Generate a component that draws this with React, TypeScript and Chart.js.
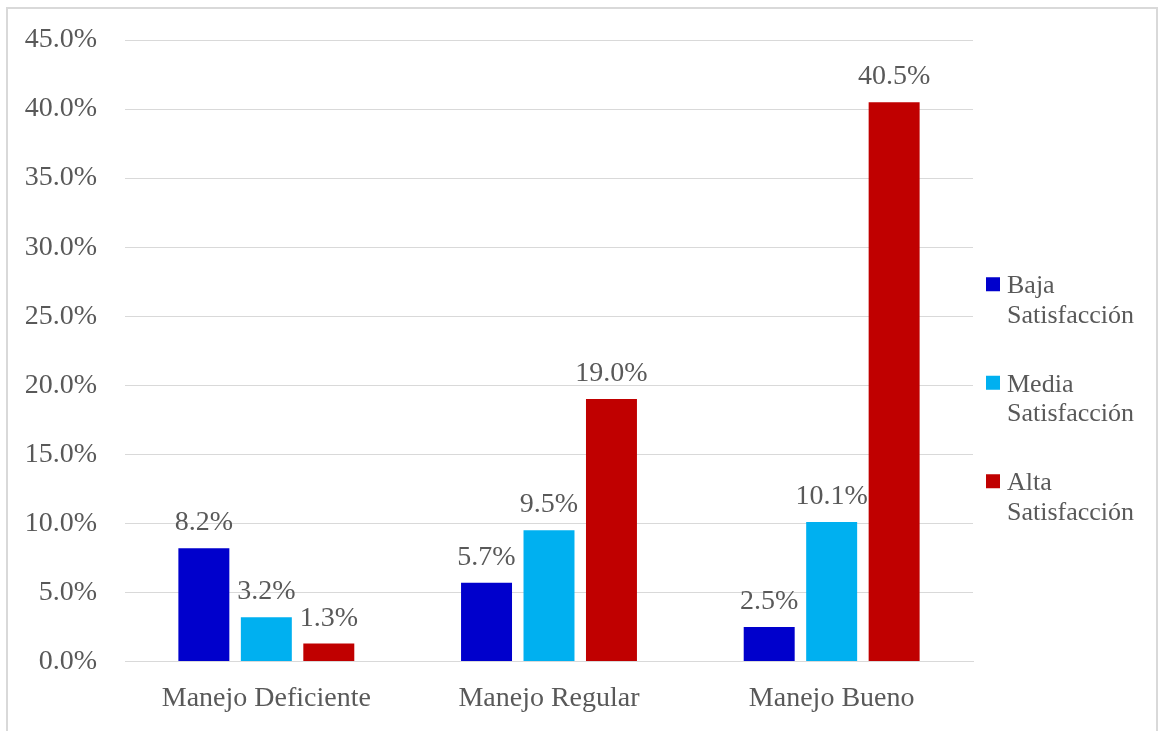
import React, { useEffect, useRef } from "react";
import { Chart, registerables } from "chart.js";

Chart.register(...registerables);

const categories = ["Manejo Deficiente", "Manejo Regular", "Manejo Bueno"];
const seriesNames = [["Baja", "Satisfacción"], ["Media", "Satisfacción"], ["Alta", "Satisfacción"]];
const bajaValues = [8.2, 5.7, 2.5];
const mediaValues = [3.2, 9.5, 10.1];
const altaValues = [1.3, 19.0, 40.5];
const seriesColors = ["#0000CC", "#00B0F0", "#C00000"];
const yMin = 0;
const yMax = 45;
const yStep = 5;

const FONT = "'Liberation Serif', 'Times New Roman', serif";
const TEXT = "#595959";
const GRID = "#D9D9D9";

const framePlugin = {
  id: "frame",
  beforeDraw(chart: any) {
    const ctx = chart.ctx;
    ctx.save();
    ctx.fillStyle = "#ffffff";
    ctx.fillRect(0, 0, chart.width, chart.height);
    ctx.strokeStyle = GRID;
    ctx.lineWidth = 2;
    ctx.strokeRect(7, 8, 1150, 800);
    ctx.restore();
  },
};

const dataLabelPlugin = {
  id: "dataLabels",
  afterDatasetsDraw(chart: any) {
    const ctx = chart.ctx;
    ctx.save();
    ctx.font = `28px ${FONT}`;
    ctx.fillStyle = TEXT;
    ctx.textAlign = "center";
    ctx.textBaseline = "alphabetic";
    chart.data.datasets.forEach((ds: any, i: number) => {
      const meta = chart.getDatasetMeta(i);
      meta.data.forEach((bar: any, j: number) => {
        const v = ds.data[j] as number;
        ctx.fillText(v.toFixed(1) + "%", bar.x, bar.y - 18);
      });
    });
    ctx.restore();
  },
};

const legendPlugin = {
  id: "customLegend",
  afterDraw(chart: any) {
    const ctx = chart.ctx;
    const area = chart.chartArea;
    const cy = (area.top + area.bottom) / 2;
    const firstBaseline = cy - 57.5;
    const step = 98.5;
    const lineH = 29.5;
    ctx.save();
    ctx.font = `26px ${FONT}`;
    ctx.textAlign = "left";
    ctx.textBaseline = "alphabetic";
    chart.data.datasets.forEach((ds: any, i: number) => {
      const base = firstBaseline + i * step;
      ctx.fillStyle = ds.backgroundColor;
      ctx.fillRect(area.right + 13, base - 16, 14, 14);
      ctx.fillStyle = TEXT;
      const lines: string[] = ds.legendLines;
      lines.forEach((t, k) => ctx.fillText(t, area.right + 34, base + k * lineH));
    });
    ctx.restore();
  },
};

export default function App() {
  const ref = useRef<HTMLCanvasElement | null>(null);
  useEffect(() => {
    if (!ref.current) return;
    const valueSets = [bajaValues, mediaValues, altaValues];
    const chart = new Chart(ref.current, {
      type: "bar",
      data: {
        labels: categories,
        datasets: valueSets.map((vals, i) => ({
          label: seriesNames[i].join(" "),
          legendLines: seriesNames[i],
          data: vals,
          backgroundColor: seriesColors[i],
          borderWidth: 0,
          categoryPercentage: 0.663,
          barPercentage: 0.816,
        })) as any,
      },
      options: {
        animation: false,
        responsive: false,
        devicePixelRatio: 1,
        layout: { padding: { top: 40, right: 185, bottom: 0, left: 0 } },
        plugins: {
          legend: { display: false },
          tooltip: { enabled: false },
        },
        scales: {
          x: {
            grid: { display: false, drawTicks: false },
            border: { display: true, color: GRID, width: 1 },
            ticks: { color: TEXT, font: { family: FONT, size: 28 }, padding: 20 },
            afterFit(scale: any) {
              scale.height = 69.5;
              scale.paddingLeft = 0;
              scale.paddingRight = 0;
            },
          },
          y: {
            min: yMin,
            max: yMax,
            grid: { color: GRID, lineWidth: 1, drawTicks: false },
            border: { display: false },
            ticks: {
              stepSize: yStep,
              color: TEXT,
              font: { family: FONT, size: 28 },
              padding: 28,
              callback: (v: any) => Number(v).toFixed(1) + "%",
            },
            afterFit(scale: any) {
              scale.width = 125;
              scale.paddingTop = 0;
              scale.paddingBottom = 0;
            },
          },
        },
      },
      plugins: [framePlugin, dataLabelPlugin, legendPlugin],
    });
    return () => chart.destroy();
  }, []);
  return (
    <div style={{ position: "absolute", left: 0, top: 0, width: 1158, height: 731 }}>
      <canvas ref={ref} width={1158} height={731} />
    </div>
  );
}
